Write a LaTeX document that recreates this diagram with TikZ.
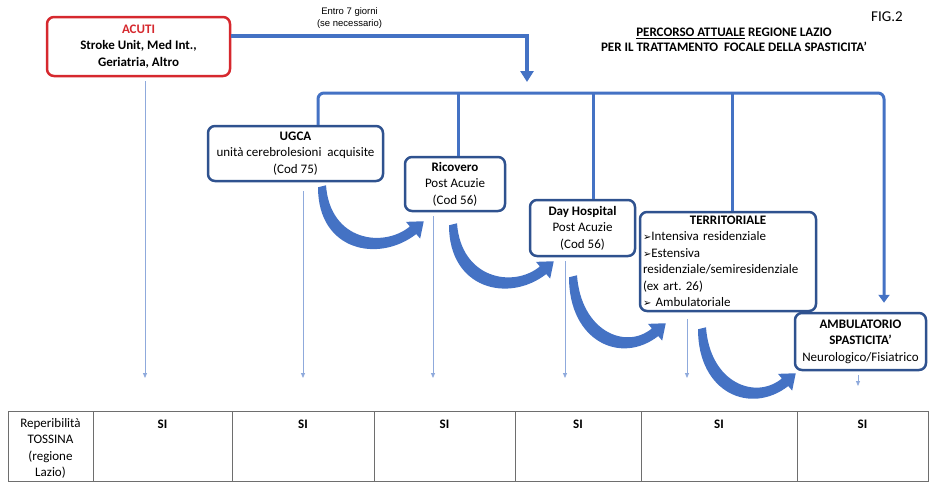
\documentclass[tikz,border=0pt]{standalone}
\usepackage{fontspec}
\setmainfont{Carlito}
\newfontfamily\arialfont{Liberation Sans}
\newfontfamily\symfont{DejaVu Sans}
\usetikzlibrary{arrows.meta,calc}
\frenchspacing

\definecolor{acutired}{RGB}{214,40,46}
\definecolor{boxblue}{RGB}{47,82,143}
\definecolor{linkblue}{RGB}{68,114,196}
\definecolor{thinblue}{RGB}{143,170,220}
\definecolor{gridgray}{RGB}{110,110,110}

\tikzset{
  box/.style={draw=boxblue, line width=2.5pt, rounded corners=7pt, fill=white,
    align=center, inner sep=0pt, font=\fontsize{13}{16.5}\selectfont},
  acutibox/.style={box, draw=acutired},
  bus/.style={draw=linkblue, line width=3pt},
  thinarrow/.style={draw=thinblue, line width=0.8pt, -{Triangle[width=4pt,length=5pt]}},
  cell/.style={anchor=north, align=center, inner sep=0pt, font=\fontsize{13}{16.5}\selectfont},
}

\newcommand{\bul}{{\symfont\fontsize{10}{10}\selectfont ➢}}
% bent fat arrow from tail #1 to tip #2
\newcommand{\fatarrow}[2]{%
  \fill[linkblue] ($(#1)+(-4,1)$) .. controls ($(#1)+(-4,65)$) and ($(#2)+(-45,42)$) .. ($(#2)+(-7.5,12.8)$)
    -- ($(#2)+(-3.6,17.4)$) -- (#2) -- ($(#2)+(-17.8,0.6)$) -- ($(#2)+(-13.9,5.2)$)
    .. controls ($(#2)+(-40,27)$) and ($(#1)+(8,55)$) .. ($(#1)+(4,-1)$) -- cycle;}

\begin{document}
\begin{tikzpicture}[x=1pt, y=-1pt]
    \useasboundingbox (0,0) rectangle (929,482);

    % Title
    \node[font=\bfseries\fontsize{13}{14.5}\selectfont, align=center] (title) at (734,40)
        {\underline{PERCORSO ATTUALE} REGIONE LAZIO\\PER IL TRATTAMENTO\ \ FOCALE DELLA SPASTICITA’};
    \node[font=\fontsize{15}{16}\selectfont] (fig) at (887,17) {FIG.2};

    % Boxes
    \node[acutibox, minimum width=183pt, minimum height=59pt] (acuti) at (138.5,46.5)
        {\textcolor{acutired}{\textbf{ACUTI}}\\\textbf{Stroke Unit, Med Int.,}\\\textbf{Geriatria, Altro}};
    \node[box, minimum width=175pt, minimum height=55pt] (ugca) at (295.5,153.5)
        {\textbf{UGCA}\\unità cerebrolesioni\ \ acquisite\\(Cod 75)};
    \node[box, minimum width=100pt, minimum height=54pt] (ricovero) at (455,184)
        {\textbf{Ricovero}\\Post Acuzie\\(Cod 56)};
    \node[box, minimum width=105pt, minimum height=56pt] (dayhosp) at (582.5,228)
        {\textbf{Day Hospital}\\Post Acuzie\\(Cod 56)};
    \node[box, minimum width=176pt, minimum height=99pt, text width=170pt, align=left] (territ) at (728,261.5)
        {\makebox[170pt]{\textbf{TERRITORIALE}}\\\bul Intensiva residenziale\\\bul Estensiva\\residenziale/semiresidenziale\\(ex art. 26)\\\bul\ Ambulatoriale};
    \node[box, minimum width=131pt, minimum height=57pt] (ambu) at (860.5,341.5)
        {\textbf{AMBULATORIO}\\\textbf{SPASTICITA’}\\Neurologico/Fisiatrico};

    % Arrow from ACUTI to the bus
    \coordinate (drop) at (527,82);
    \draw[bus, line width=3.5pt, -{Triangle[width=13pt,length=11pt]}] ([yshift=10.5pt]acuti.east) -|
        node[pos=0.2, above=2pt, font=\arialfont\fontsize{9.5}{12}\selectfont, align=center] (entro)
        {Entro 7 giorni\\(se necessario)} (drop);

    % Bus to the post-acute settings
    \coordinate (bus) at (600,93);
    \coordinate (u1) at ([xshift=22.5pt]ugca.north);
    \coordinate (u5) at ([xshift=23.5pt,yshift=9pt]ambu.north);
    \draw[bus, rounded corners=6pt, -{Triangle[width=11pt,length=8pt]}] (u1) -- (u1 |- bus) -- (u5 |- bus) -- (u5);
    \foreach \nd/\dx in {ricovero/3, dayhosp/10.5, territ/4} {
        \coordinate (dn) at ([xshift=\dx pt]\nd.north);
        \draw[bus] (dn |- bus) -- (dn);
    }

    % Thin arrows down to the table
    \coordinate (endrow) at (0,378);
    \foreach \nd/\dx/\dy in {acuti/6.5/4, ugca/7.5/9, ricovero/-22/4, dayhosp/-17.5/4, territ/-41/7} {
        \coordinate (top) at ([xshift=\dx pt,yshift=-\dy pt]\nd.south);
        \draw[thinarrow] (top) -- (top |- endrow);
    }
    \coordinate (endamb) at (0,386);
    \coordinate (topamb) at ([xshift=-2.5pt,yshift=-4pt]ambu.south);
    \draw[thinarrow] (topamb) -- (topamb |- endamb);

    % Bent arrows between settings
    \coordinate (t1) at ([xshift=26.5pt,yshift=-4pt]ugca.south);
    \coordinate (h1) at ([xshift=20pt,yshift=-9pt]ricovero.south west);
    \coordinate (t2) at ([xshift=-2pt,yshift=-12pt]ricovero.south);
    \coordinate (h2) at ([xshift=25pt,yshift=-4pt]dayhosp.south west);
    \coordinate (t3) at ([xshift=-9.5pt,yshift=-19pt]dayhosp.south);
    \coordinate (h3) at ([xshift=27pt,yshift=-11pt]territ.south west);
    \coordinate (t4) at ([xshift=-26pt,yshift=-16pt]territ.south);
    \coordinate (h4) at ([xshift=2pt,yshift=-2pt]ambu.south west);
    \fatarrow{t1}{h1}
    \fatarrow{t2}{h2}
    \fatarrow{t3}{h3}
    \fatarrow{t4}{h4}

    % Table
    \draw[gridgray, line width=0.8pt] (8,411) rectangle (928,481);
    \foreach \x in {93,232,374,515,641,797}
        \draw[gridgray, line width=0.8pt] (\x,411) -- (\x,481);
    \node[cell] (lbl) at (50.5,418) {Reperibilità\\TOSSINA\\(regione\\Lazio)};
    \foreach \x/\n in {162.5/1, 303/2, 444.5/3, 578/4, 719/5, 862.5/6}
        \node[cell, font=\bfseries\fontsize{13}{16.5}\selectfont] (si\n) at (\x,419.5) {SI};
\end{tikzpicture}
\end{document}
